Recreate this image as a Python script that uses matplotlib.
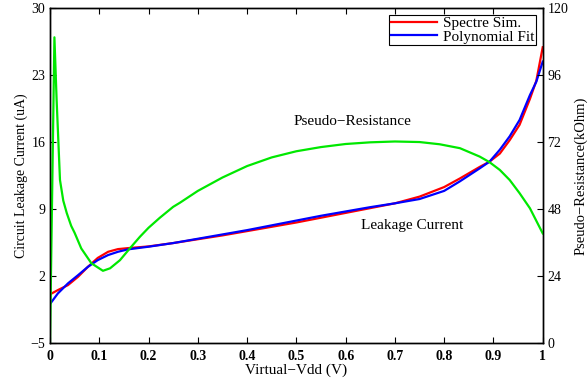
import matplotlib
matplotlib.use('Agg')
import matplotlib.pyplot as plt

# ---- data ----
# leakage current (uA), left axis
red_x = [0, 0.016, 0.0365, 0.057, 0.077, 0.097, 0.118, 0.138, 0.158, 0.2, 0.25, 0.3, 0.35, 0.4,
         0.45, 0.5, 0.55, 0.6, 0.65, 0.7, 0.75, 0.8, 0.832, 0.872, 0.892, 0.913, 0.933, 0.953,
         0.974, 0.987, 1.0]
red_y = [0.09, 0.54, 1.06, 1.93, 2.97, 3.9, 4.54, 4.82, 4.92, 5.1, 5.45, 5.85, 6.25, 6.7,
         7.15, 7.6, 8.1, 8.6, 9.1, 9.6, 10.3, 11.3, 12.2, 13.4, 13.95, 14.8, 16.2, 17.8,
         20.5, 22.4, 25.9]

blue_x = [0, 0.016, 0.0365, 0.057, 0.077, 0.097, 0.118, 0.138, 0.158, 0.2, 0.25, 0.3, 0.35, 0.4,
          0.45, 0.5, 0.55, 0.6, 0.65, 0.7, 0.75, 0.8, 0.832, 0.872, 0.892, 0.913, 0.933, 0.953,
          0.974, 0.987, 1.0]
blue_y = [-0.92, 0.19, 1.24, 2.1, 2.97, 3.67, 4.2, 4.54, 4.79, 5.07, 5.45, 5.9, 6.35, 6.8,
          7.3, 7.8, 8.3, 8.75, 9.2, 9.6, 10.05, 10.9, 11.9, 13.25, 13.95, 15.2, 16.6, 18.3,
          20.9, 22.3, 24.4]

# pseudo-resistance (kOhm), right axis
green_x = [0, 0.009, 0.0135, 0.0203, 0.027, 0.034, 0.043, 0.05, 0.0635, 0.084, 0.1075, 0.122,
           0.142, 0.162, 0.1826, 0.2, 0.223, 0.25, 0.264, 0.3, 0.35, 0.4, 0.45, 0.5, 0.55,
           0.6, 0.65, 0.7, 0.75, 0.791, 0.832, 0.872, 0.892, 0.913, 0.933, 0.953, 0.974, 1.0]
green_y = [0, 109.5, 87, 58.4, 51, 46.6, 42, 39.5, 33.9, 28.6, 25.9, 26.8,
           29.7, 33.9, 38.1, 41.3, 44.9, 48.8, 50.3, 54.5, 59.3, 63.4, 66.5, 68.7, 70.2,
           71.3, 71.9, 72.2, 72.0, 71.2, 69.8, 66.8, 64.8, 62.0, 58.4, 53.7, 48.3, 39.3]

x_ticks = [0, 0.1, 0.2, 0.3, 0.4, 0.5, 0.6, 0.7, 0.8, 0.9, 1]
x_labels = ['0', '0.1', '0.2', '0.3', '0.4', '0.5', '0.6', '0.7', '0.8', '0.9', '1']
left_ticks = [-5, 2, 9, 16, 23, 30]
right_ticks = [0, 24, 48, 72, 96, 120]

plt.rcParams['font.family'] = ['Liberation Serif', 'DejaVu Serif']

fig = plt.figure(figsize=(5.88, 3.8), dpi=100)
ax = fig.add_axes([0.085, 0.097, 0.838, 0.882])
ax2 = ax.twinx()

ax.plot(red_x, red_y, color='#ff0000', lw=1.6, label='Spectre Sim.')
ax.plot(blue_x, blue_y, color='#0000ff', lw=1.6, label='Polynomial Fit')
ax2.plot(green_x, green_y, color='#00e800', lw=1.6)

ax.set_xlim(0, 1)
ax.set_ylim(-5, 30)
ax2.set_ylim(0, 120)
ax.set_xticks(x_ticks)
ax.set_xticklabels(x_labels, fontweight='bold')
ax.set_yticks(left_ticks)
ax2.set_yticks(right_ticks)

ax.tick_params(axis='x', direction='in', top=True, labelsize=10, length=4, pad=5)
ax.tick_params(axis='y', direction='in', labelsize=10, length=4)
ax2.tick_params(axis='y', direction='in', labelsize=10, length=4)

ax.set_xlabel('Virtual\u2212Vdd (V)', fontsize=11, labelpad=0)
ax.set_ylabel('Circuit Leakage Current (uA)', fontsize=10, labelpad=2)
ax2.set_ylabel('Pseudo\u2212Resistance(kOhm)', fontsize=10.5, labelpad=4)

ax.text(0.613, 18.1, 'Pseudo\u2212Resistance', fontsize=11, ha='center', va='center')
ax.text(0.735, 7.3, 'Leakage Current', fontsize=11, ha='center', va='center')

leg = ax.legend(loc='upper right', fontsize=11, fancybox=False, framealpha=1,
                edgecolor='black', handlelength=3.0, borderpad=0.1, labelspacing=0.0,
                handletextpad=0.4, borderaxespad=0.45)
leg.get_frame().set_linewidth(0.8)

for a in (ax, ax2):
    for s in a.spines.values():
        s.set_linewidth(1.0)

fig.savefig('out.png', dpi=100)
